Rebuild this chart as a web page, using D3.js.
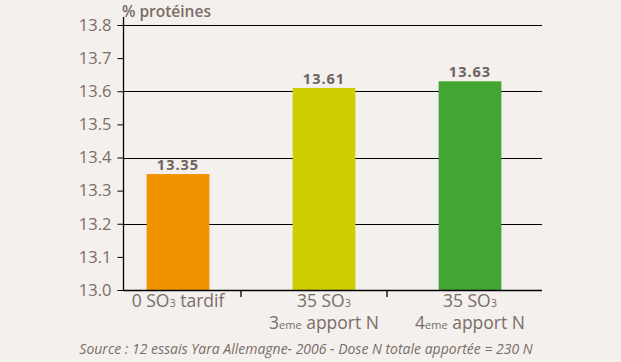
<!DOCTYPE html>
<html>
<head>
<meta charset="utf-8">
<script src="https://cdn.jsdelivr.net/npm/d3@7"></script>
<style>
  body { margin: 0; background: #f3f0ed; }
  svg { display: block; font-family: "Open Sans", sans-serif; }
</style>
</head>
<body>
<div id="chart"></div>
<script>
// chart data
var categories = ["0 SO3 tardif", "35 SO3 3eme apport N", "35 SO3 4eme apport N"];
var values = [13.35, 13.61, 13.63];
var colors = ["#f39200", "#cfce00", "#43a532"];
var yTicks = [13.0, 13.1, 13.2, 13.3, 13.4, 13.5, 13.6, 13.7, 13.8];
var gridTicks = [13.2, 13.4, 13.6, 13.8];
// label lines: [main, subscript, rest]
var labelLine1 = [["0 SO", "3", " tardif"], ["35 SO", "3", ""], ["35 SO", "3", ""]];
var labelLine2 = [null, ["3", "eme", " apport N"], ["4", "eme", " apport N"]];

var svgWidth = 621;
var svgHeight = 362;
var textColor = "#7b6d67";

var svg = d3.select("#chart").append("svg")
  .attr("width", svgWidth).attr("height", svgHeight);

svg.append("rect").attr("width", svgWidth).attr("height", svgHeight).attr("fill", "#f3f0ed");

// plot area edges
var plotLeft = 123, plotRight = 542, plotTop = 25, plotBottom = 290;

var y = d3.scaleLinear().domain([13.0, 13.8]).range([plotBottom, plotTop]);
var x = d3.scaleBand().domain(categories).range([105, 543]).paddingInner(0.57).paddingOuter(0.285);

// gridlines
svg.append("g").selectAll("line").data(gridTicks).enter().append("line")
  .attr("x1", plotLeft).attr("x2", plotRight)
  .attr("y1", d => Math.round(y(d)) + 0.5).attr("y2", d => Math.round(y(d)) + 0.5)
  .attr("stroke", "#000").attr("stroke-width", 1.1);

// bars
svg.append("g").selectAll("rect").data(values).enter().append("rect")
  .attr("x", (d, i) => x(categories[i]))
  .attr("width", x.bandwidth())
  .attr("y", d => y(d))
  .attr("height", d => y(13.0) - y(d))
  .attr("fill", (d, i) => colors[i]);

// value labels
svg.append("g").selectAll("text").data(values).enter().append("text")
  .attr("x", (d, i) => x(categories[i]) + x.bandwidth() / 2)
  .attr("y", d => y(d) - 4)
  .attr("text-anchor", "middle")
  .attr("font-size", "14.5px").attr("font-weight", "bold")
  .attr("letter-spacing", "1px")
  .attr("fill", "#6f6360")
  .text(d => d.toFixed(2));

// y axis
var yAxis = svg.append("g")
  .attr("transform", `translate(${plotLeft + 0.5},0)`)
  .call(d3.axisLeft(y).tickValues(yTicks).tickFormat(d3.format(".1f")).tickSize(6).tickPadding(6));
yAxis.select(".domain").attr("d", `M0,${plotTop - 8}V${plotBottom}`).attr("stroke-width", 1.3);
yAxis.selectAll("text").attr("font-size", "16.5px").attr("fill", textColor)
  .attr("font-family", "Open Sans, sans-serif");

// x axis line and dividers
svg.append("line").attr("x1", plotLeft).attr("x2", plotRight)
  .attr("y1", plotBottom + 0.5).attr("y2", plotBottom + 0.5)
  .attr("stroke", "#000").attr("stroke-width", 1.3);
var dividers = categories.slice(1).map(c => x(c) - x.step() * x.paddingInner() / 2 - 10);
svg.append("g").selectAll("line").data(dividers).enter().append("line")
  .attr("x1", d => d).attr("x2", d => d)
  .attr("y1", plotBottom).attr("y2", plotBottom + 7)
  .attr("stroke", "#000").attr("stroke-width", 1.3);

// category labels
function addLabel(parts, cx, yy) {
  var t = svg.append("text").attr("x", cx).attr("y", yy)
    .attr("text-anchor", "middle").attr("font-size", "17.5px")
    .attr("font-weight", 500).attr("fill", textColor);
  t.append("tspan").text(parts[0]);
  t.append("tspan").attr("font-size", "11px").text(parts[1]);
  if (parts[2]) t.append("tspan").text(parts[2]);
}
categories.forEach(function (c, i) {
  var cx = x(c) + x.bandwidth() / 2;
  addLabel(labelLine1[i], cx, 307);
  if (labelLine2[i]) addLabel(labelLine2[i], cx, 329);
});

// axis title
svg.append("text").attr("x", plotLeft - 1).attr("y", 17)
  .attr("font-size", "15.5px").attr("font-weight", 600).attr("fill", textColor)
  .text("% protéines");

// source
svg.append("text").attr("x", 306).attr("y", 354)
  .attr("text-anchor", "middle").attr("font-size", "14px")
  .attr("font-style", "italic").attr("fill", textColor)
  .text("Source : 12 essais Yara Allemagne- 2006 - Dose N totale apportée = 230 N");
</script>
</body>
</html>
